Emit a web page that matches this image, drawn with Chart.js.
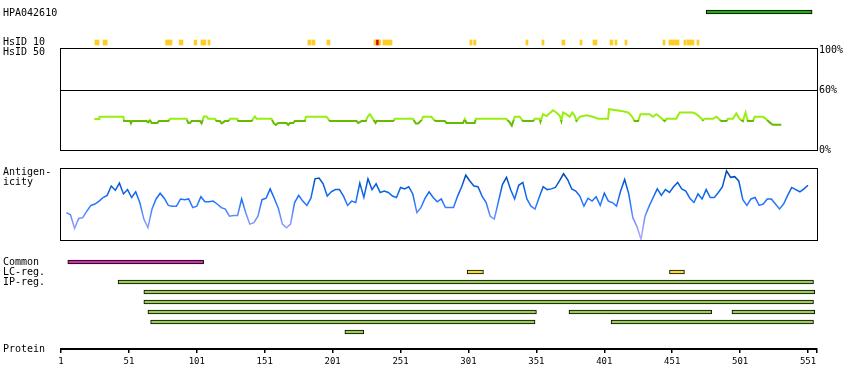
<!DOCTYPE html>
<html>
<head>
<meta charset="utf-8">
<script src="https://cdn.jsdelivr.net/npm/chart.js@4.4.1/dist/chart.umd.min.js"></script>
<style>
  html, body { margin: 0; padding: 0; background: #fff; }
  #wrap { position: relative; width: 850px; height: 390px; }
  #wrap canvas { position: absolute; left: 0; top: 0; }
</style>
</head>
<body>
<div id="wrap">
  <canvas id="top" width="850" height="390"></canvas>
  <canvas id="hsid" width="850" height="390"></canvas>
  <canvas id="antigen" width="850" height="390"></canvas>
  <canvas id="features" width="850" height="390"></canvas>
  <canvas id="axis" width="850" height="390"></canvas>
</div>
<script>
// protein residue range shown on the x axis
const X_MIN = 1, X_MAX = 557.6;
const axisTicks = [1, 51, 101, 151, 201, 251, 301, 351, 401, 451, 501, 551];

// antigen (PrEST) region
const antigenRegion = [[476, 554]];

// HsID 10 hits
const hsid10Marks = [[26, 29], [32, 35], [78, 82.7], [88, 90.8], [99, 101], [104, 107.7], [109.2, 110.7],
  [182.8, 185], [185.8, 188], [196.8, 199], [231.4, 232.8], [235.1, 236.4], [238, 244.7],
  [302, 303.6], [304.8, 306.5], [343.3, 344.8], [355.1, 356.6], [369.8, 372], [383.1, 384.6],
  [392.7, 395.6], [405.2, 407.4], [408.9, 410.3], [416.2, 417.7], [444.2, 445.7], [448.6, 456],
  [459.6, 461.1], [461.8, 467], [469.2, 470.7]];
const hsid10Strong = [[232.8, 235.1]];

// HsID 50 identity (%)
const hsid50Pos = [25.5, 29, 29.3, 46.9, 47.4, 51.8, 52.5, 53.3, 64, 65.2, 66.5, 67.7, 71.9, 73.1, 80, 81.2,
  93.5, 94.7, 95.9, 97.2, 103.3, 104.5, 106.2, 108.2, 109.4, 114.3, 115.6, 118, 119.3, 121.7, 124.1, 125.4,
  130.7, 131.5, 141.3, 143.8, 145, 156, 157.7, 159.2, 160.9, 167, 168.3, 169.5, 172, 173.2, 180.5, 181.3,
  196.5, 199, 218.6, 219.8, 222.3, 225.4, 226.7, 228.4, 230.8, 232.6, 233.3, 245.5, 246.8, 260.2, 262.2,
  263.9, 266.4, 267.6, 273.8, 275, 276.9, 283.6, 284.8, 297, 298.3, 299.5, 305.6, 306.4, 328.9, 331.4,
  332.9, 335.1, 338.7, 341.2, 348.5, 349.8, 353.5, 354, 355.9, 358.4, 360.8, 363.3, 365.7, 368.2, 369.4,
  370.6, 373.1, 375.5, 377.5, 379.2, 380.5, 382.9, 387.8, 392.7, 396.4, 403.8, 404.5, 413.6, 418.5, 421,
  423.4, 425.9, 427.6, 434.4, 436.8, 439.3, 441.8, 445.4, 446.7, 454, 456.5, 466.3, 468.8, 471.2, 473.6,
  474.9, 481, 483.5, 487.2, 490.8, 492, 495.7, 498.2, 500.6, 503, 505, 506.7, 510.4, 511.7, 517.8, 520.3,
  522.7, 525.1, 531.3];
const hsid50Val = [30.9, 30.9, 33.2, 33.2, 28.9, 28.9, 26.6, 28.9, 28.9, 27.6, 29.9, 27, 27, 28.9, 28.9, 31.2,
  31.2, 27, 27, 28.9, 28.9, 26.6, 33.5, 33.5, 31.2, 31.2, 28.9, 28.9, 26.6, 28.9, 28.9, 31.2,
  31.2, 28.9, 28.9, 33.5, 31.2, 31.2, 26.6, 25, 27, 27, 25, 27, 27, 28.9, 28.9, 33.2,
  33.2, 28.9, 28.9, 27, 28.9, 28.9, 33.2, 35.8, 30.9, 27, 28.9, 28.9, 31.2, 31.2, 26.6,
  26.6, 29.9, 33.2, 33.2, 30.9, 28.9, 28.9, 27, 27, 30.9, 27, 27, 31.2, 31.2, 27.6,
  24.3, 33.2, 33.2, 28.9, 28.9, 31.2, 31.2, 28.3, 35.8, 33.9, 36.8, 39.8, 37.5, 34.2, 28.9,
  37.5, 35.8, 33.2, 37.5, 34.2, 29.2, 33.2, 34.8, 33.2, 31.2, 31.2, 40.8, 39.1, 37.5, 34.2,
  28.9, 28.9, 35.8, 35.8, 33.2, 35.8, 33.2, 28.9, 31.2, 31.2, 37.5, 37.5, 35.8, 33.2, 29.9,
  31.2, 31.2, 33.2, 28.9, 28.9, 31.2, 31.2, 36.5, 31.2, 28.9, 37.5, 28.9, 28.9, 33.2, 33.2, 30.9,
  27.6, 25.3, 25.3];

// antigenicity score (0-100), one reading every 3 residues from residue 5
const antigenStart = 5, antigenStep = 3;
const antigenicity = [38, 35, 16, 30, 31, 40, 48, 50, 54, 59, 62, 75, 69, 79, 64, 70, 59, 67, 52, 29,
  17, 43, 57, 65, 58, 48, 47, 47, 57, 56, 57, 45, 47, 60, 53, 53, 54, 50, 45, 43, 33, 34, 34, 57, 38, 22,
  24, 33, 56, 58, 71, 58, 44, 22, 17, 22, 52, 62, 54, 48, 58, 85, 86, 78, 61, 67,
  70, 70, 61, 48, 54, 52, 79, 59, 85, 70, 78, 66, 68, 66, 61, 59, 73, 71, 74, 64, 38, 45, 58, 67, 59, 53,
  57, 45, 45, 45, 61, 74, 90, 82, 75, 74, 61, 52, 33, 29, 53, 77, 87, 70, 57, 76,
  80, 57, 47, 43, 59, 74, 70, 71, 73, 82, 92, 84, 71, 68, 61, 47, 58, 54, 60, 48, 65, 54, 52, 47, 68, 84,
  64, 31, 19, 1, 33, 47, 59, 71, 62, 70, 66, 74, 80, 71, 68, 58, 52, 64, 57, 70,
  59, 59, 66, 74, 96, 87, 88, 82, 56, 48, 57, 59, 48, 50, 57, 57, 50, 43, 50, 62, 73, 70, 67, 71, 76];

// feature rows
const commonRegions = [[6, 106]];
const lcRegions = [[300, 312], [449, 460]];
const ipRows = [
  [[43, 555]],
  [[62, 556]],
  [[62, 555]],
  [[65, 351], [375, 480], [495, 556]],
  [[67, 350], [406, 555]],
  [[210, 224]]
];

Chart.defaults.font.family = '"DejaVu Sans Mono", monospace';
Chart.defaults.font.size = 10;
Chart.defaults.color = '#000';

const sideText = {
  id: 'sideText',
  afterDraw(chart, args, opts) {
    const ctx = chart.ctx;
    ctx.save();
    ctx.font = '10px "DejaVu Sans Mono"';
    ctx.fillStyle = '#000';
    ctx.textBaseline = 'middle';
    (opts.items || []).forEach(it => ctx.fillText(it.text, it.x, it.y));
    ctx.restore();
  }
};

const frame = {
  id: 'frame',
  afterDraw(chart) {
    const a = chart.chartArea;
    const ctx = chart.ctx;
    ctx.save();
    ctx.strokeStyle = '#000';
    ctx.lineWidth = 1;
    ctx.strokeRect(a.left - 0.5, a.top + 0.5, a.right - a.left + 1, a.bottom - a.top);
    ctx.restore();
  }
};

function baseOptions(padding) {
  return {
    responsive: false,
    animation: false,
    events: [],
    layout: { padding: padding },
    plugins: { legend: { display: false }, tooltip: { enabled: false } }
  };
}

function xHidden() {
  return { type: 'linear', min: X_MIN, max: X_MAX, display: false };
}

function rowAxis(maxRow) {
  return { type: 'linear', reverse: true, min: 0, max: maxRow, offset: false, display: false };
}

function rowBars(regions, row) {
  return regions.map(r => ({ x: r, y: row }));
}

// top strip: antigen + HsID 10
const topOpts = baseOptions({ left: 61, right: 33, top: 12, bottom: 347.5 });
topOpts.indexAxis = 'y';
topOpts.scales = { x: xHidden(), y: rowAxis(1) };
topOpts.plugins.sideText = { items: [
  { text: 'HPA042610', x: 3, y: 13 },
  { text: 'HsID 10', x: 3, y: 42.5 },
  { text: 'HsID 50', x: 3, y: 52.5 }
] };
new Chart(document.getElementById('top'), {
  type: 'bar',
  data: {
    datasets: [
      { data: rowBars(antigenRegion, 0), backgroundColor: '#22aa11', borderColor: '#000', borderWidth: 1,
        borderSkipped: false, barThickness: 4, grouped: false, clip: false },
      { data: rowBars(hsid10Marks, 1), backgroundColor: '#ffcc22', barThickness: 5, grouped: false, clip: false },
      { data: rowBars(hsid10Strong, 1), backgroundColor: '#dd0000', barThickness: 5, grouped: false, clip: false }
    ]
  },
  options: topOpts,
  plugins: [sideText]
});

// HsID 50 panel
const hsidOpts = baseOptions({ left: 61, right: 0, top: 48, bottom: 240 });
hsidOpts.scales = {
  x: xHidden(),
  y: {
    position: 'right', min: 0, max: 102,
    afterBuildTicks: s => { s.ticks = [0, 60, 100].map(v => ({ value: v })); },
    afterFit: s => { s.width = 33; },
    ticks: { callback: v => v + '%', padding: 2, color: '#000' },
    grid: { color: c => (c.tick && c.tick.value === 60 ? '#000' : 'rgba(0,0,0,0)'), drawTicks: false, lineWidth: 1 },
    border: { display: false }
  }
};
new Chart(document.getElementById('hsid'), {
  type: 'line',
  data: {
    datasets: [{
      data: hsid50Pos.map((p, i) => ({ x: p, y: hsid50Val[i] })),
      borderWidth: 2,
      pointRadius: 0,
      fill: false,
      borderColor(ctx) {
        const chart = ctx.chart, a = chart.chartArea;
        if (!a) return '#66bb00';
        const yCut = chart.scales.y.getPixelForValue(30);
        const f = Math.min(1, Math.max(0, (yCut - a.top) / (a.bottom - a.top)));
        const g = chart.ctx.createLinearGradient(0, a.top, 0, a.bottom);
        g.addColorStop(0, '#99ee11');
        g.addColorStop(f, '#99ee11');
        g.addColorStop(f, '#66bb00');
        g.addColorStop(1, '#66bb00');
        return g;
      }
    }]
  },
  options: hsidOpts,
  plugins: [frame]
});

// antigenicity panel
const agOpts = baseOptions({ left: 61, right: 33, top: 168, bottom: 150 });
agOpts.scales = { x: xHidden(), y: { type: 'linear', min: 0, max: 100, display: false } };
agOpts.plugins.sideText = { items: [
  { text: 'Antigen-', x: 3, y: 172.5 },
  { text: 'icity', x: 3, y: 182.5 }
] };
new Chart(document.getElementById('antigen'), {
  type: 'line',
  data: {
    datasets: [{
      data: antigenicity.map((v, i) => ({ x: antigenStart + i * antigenStep, y: v })),
      borderWidth: 1.5,
      pointRadius: 0,
      fill: false,
      borderColor(ctx) {
        const chart = ctx.chart, a = chart.chartArea;
        if (!a) return '#1a6fff';
        const g = chart.ctx.createLinearGradient(0, a.top, 0, a.bottom);
        g.addColorStop(0, '#003f9e');
        g.addColorStop(0.15, '#0052c4');
        g.addColorStop(0.35, '#0d66f0');
        g.addColorStop(0.5, '#2a78ff');
        g.addColorStop(0.65, '#5c8cff');
        g.addColorStop(0.8, '#8a98ff');
        g.addColorStop(1, '#b8aaff');
        return g;
      }
    }]
  },
  options: agOpts,
  plugins: [frame, sideText]
});

// feature rows
const featOpts = baseOptions({ left: 61, right: 33, top: 262, bottom: 58 });
featOpts.indexAxis = 'y';
featOpts.scales = { x: xHidden(), y: rowAxis(7) };
featOpts.plugins.sideText = { items: [
  { text: 'Common', x: 3, y: 262.5 },
  { text: 'LC-reg.', x: 3, y: 272.5 },
  { text: 'IP-reg.', x: 3, y: 282.5 }
] };
const ipData = [];
ipRows.forEach((regions, k) => { ipData.push(...rowBars(regions, 2 + k)); });
const barStyle = { borderColor: '#000', borderWidth: 1, borderSkipped: false, barThickness: 4, grouped: false, clip: false };
new Chart(document.getElementById('features'), {
  type: 'bar',
  data: {
    datasets: [
      Object.assign({ data: rowBars(commonRegions, 0), backgroundColor: '#cc33aa' }, barStyle),
      Object.assign({ data: rowBars(lcRegions, 1), backgroundColor: '#eedd33' }, barStyle),
      Object.assign({ data: ipData, backgroundColor: '#99cc55' }, barStyle)
    ]
  },
  options: featOpts,
  plugins: [sideText]
});

// protein axis
const axisOpts = baseOptions({ left: 61, right: 33, top: 330, bottom: 0 });
axisOpts.scales = {
  x: {
    type: 'linear', min: X_MIN, max: X_MAX, position: 'bottom',
    afterBuildTicks: s => { s.ticks = axisTicks.concat([X_MAX]).map(v => ({ value: v })); },
    afterFit: s => { s.height = 41; },
    ticks: {
      autoSkip: false, maxRotation: 0, padding: 3, color: '#000', font: { size: 9 },
      callback: v => (axisTicks.includes(v) ? String(v) : '')
    },
    grid: { drawOnChartArea: false, color: '#000', tickLength: 4, lineWidth: 1.5 },
    border: { display: true, color: '#000', width: 2 }
  },
  y: { type: 'linear', min: 0, max: 1, display: false }
};
axisOpts.plugins.sideText = { items: [{ text: 'Protein', x: 3, y: 349.5 }] };
new Chart(document.getElementById('axis'), {
  type: 'line',
  data: { datasets: [] },
  options: axisOpts,
  plugins: [sideText]
});
</script>
</body>
</html>
